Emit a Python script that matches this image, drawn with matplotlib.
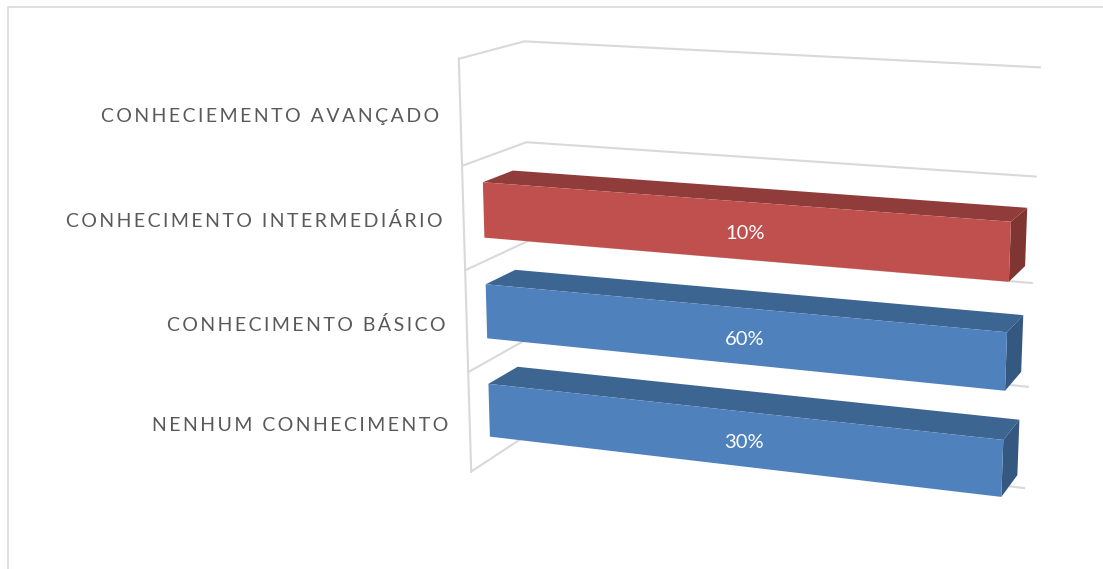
import numpy as np
import matplotlib
matplotlib.use('Agg')
from matplotlib import pyplot as plt

categories = ['NENHUM CONHECIMENTO', 'CONHECIMENTO BÁSICO', 'CONHECIMENTO INTERMEDIÁRIO', 'CONHECIEMENTO AVANÇADO']
pct_blue = [30, 60, 0, 0]
pct_red = [0, 0, 10, 0]

plt.rcParams['font.family'] = ['Lato', 'DejaVu Sans']

fig = plt.figure(figsize=(11.03, 5.69), dpi=100)
ax = fig.add_axes([0, 0, 1, 1])
ax.set_xlim(0, 1103)
ax.set_ylim(569, 0)
ax.axis('off')

# camera fitted on the chart box: (share, category, depth) -> pixel
box_model = [(0, 0, 0), (0, 1, 0), (0, 2, 0), (0, 3, 0), (0, 4, 0),
             (0, 4, 1), (0, 3, 1), (0, 0, 1),
             (1, 4, 1), (1, 3, 1), (1, 2, 1), (1, 1, 1), (1, 0, 1),
             (1, 0, 0)]
box_px = [(473, 469), (469, 370), (465, 269), (461, 167), (457, 60),
          (525, 41), (528, 141), (531, 436),
          (1040, 68), (1036, 177), (1032, 283), (1028, 385), (1023, 485),
          (990, 540)]

A, b = [], []
for (X, Y, Z), (u, v) in zip(box_model, box_px):
    A.append([X, Y, Z, 1, 0, 0, 0, 0, -u*X, -u*Y, -u*Z])
    A.append([0, 0, 0, 0, X, Y, Z, 1, -v*X, -v*Y, -v*Z])
    b += [u, v]
cam = np.append(np.linalg.lstsq(np.array(A), np.array(b), rcond=None)[0], 1).reshape(3, 4)


def proj(x, c, d):
    p = cam @ np.array([x, c, d, 1.0])
    return p[0] / p[2], p[1] / p[2]


def face(pts, color):
    ax.fill(*zip(*[proj(*p) for p in pts]), color=color, lw=0, zorder=3)


# frame of the picture
ax.plot([8, 8, 1103], [569, 7, 7], color='#D9D9D9', lw=1.2, zorder=1)

# walls and grid
grid = '#D9D9D9'
for c in range(5):
    ax.plot(*zip(proj(0, c, 0), proj(0, c, 1), proj(1, c, 1)), color=grid, lw=1.5, zorder=2, solid_joinstyle='miter')
ax.plot(*zip(proj(0, 0, 0), proj(0, 4, 0)), color=grid, lw=1.5, zorder=2)

gap = 0.23
d1, d2 = 0.3, 0.77
for i, name in enumerate(categories):
    lx, ly = proj(0, i + 0.5, 0)
    ax.text(lx - 21, ly + 9, '\u2009'.join(name), ha='right', va='baseline', fontsize=14, color='#595959')

    if pct_blue[i] > 0:
        val, front, top, side = pct_blue[i], '#4F81BD', '#3D6592', '#34587F'
    elif pct_red[i] > 0:
        val, front, top, side = pct_red[i], '#C0504D', '#903C3A', '#7F3532'
    else:
        continue
    # 100% stacked, so a single series fills the whole width
    lo, hi = i + gap, i + 1 - gap
    face([(0, hi, d2), (1, hi, d2), (1, hi, d1), (0, hi, d1)], top)
    face([(1, lo, d1), (1, lo, d2), (1, hi, d2), (1, hi, d1)], side)
    face([(0, lo, d1), (1, lo, d1), (1, hi, d1), (0, hi, d1)], front)
    corners = [proj(x, c, d1) for x in (0, 1) for c in (lo, hi)]
    tx, ty = np.mean(corners, axis=0)
    ax.text(tx - 2, ty + 3, f'{val}%', ha='center', va='center', fontsize=14.5, color='white', zorder=4)

fig.savefig('out.png', dpi=100)
